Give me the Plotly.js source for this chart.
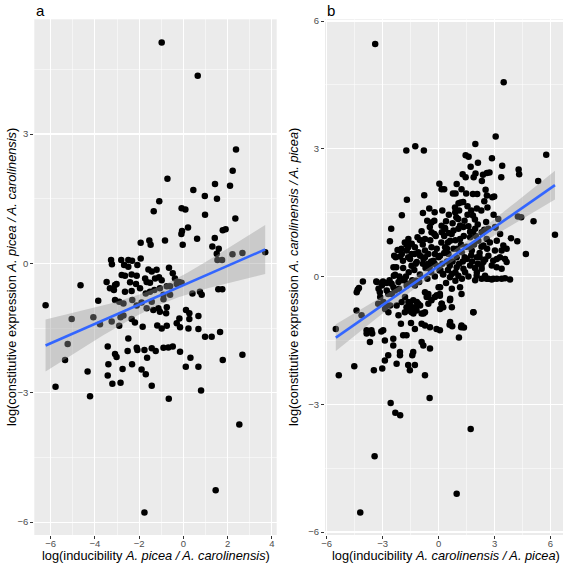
<!DOCTYPE html>
<html>
<head>
<meta charset="utf-8">
<script src="https://cdn.plot.ly/plotly-3.0.1.min.js"></script>
<style>html,body{margin:0;padding:0;background:#fff;}#chart{width:566px;height:566px;}</style>
</head>
<body>
<div id="chart"></div>
<script>
// Panel a: log(inducibility A. picea / A. carolinensis) vs log(constitutive expression A. picea / A. carolinensis)
const aX = [-0.98,0.65,2.38,2.23,-0.72,1.43,2.11,0.45,0.97,1.52,-1.09,-1.34,-0.08,0.09,0.98,2.35,0.21,-0.06,-0.09,1.78,1.91,-1.93,-1.54,-1.48,-0.83,0.62,1.42,-0.03,1.31,1.60,1.51,1.54,1.75,2.22,2.67,3.70,-3.27,-3.23,-2.81,-2.68,-2.49,-2.32,-1.93,-2.08,-2.49,
-4.65,-3.47,-3.02,-2.79,-2.64,-2.34,-2.41,-2.14,-1.58,-1.43,-1.21,-0.65,-0.48,-0.38,-0.20,-0.30,-0.60,-0.08,-1.73,-1.66,-1.51,-1.28,-1.10,-0.98,-0.75,-2.11,-3.32,-3.14,-3.09,-2.64,-2.34,-1.96,-1.70,-1.51,-1.31,-1.06,-0.90,-0.90,-0.60,0.41,0.75,0.83,1.58,1.76,
-3.85,-3.09,-2.90,-2.71,-2.31,-2.11,-1.89,-1.66,-1.43,-1.36,-1.13,-1.06,-0.75,-0.78,0.12,0.27,-0.18,0.27,0.68,-5.05,-4.07,-3.77,-3.24,-2.84,-2.71,-2.34,-2.19,-2.90,-1.84,-1.18,-0.98,-0.75,-0.30,-0.15,0.23,0.68,1.66,0.98,1.28,-2.49,
-6.23,-5.23,-5.35,-5.78,-4.33,-4.22,-3.42,-3.09,-3.02,-3.39,-2.75,-3.42,-3.21,-2.84,-2.52,-2.32,-2.11,-2.08,-1.76,-1.89,-1.70,-1.64,-1.43,-1.25,-1.43,-0.90,-0.68,-0.48,-0.15,0.32,0.11,0.68,0.80,-0.66,1.78,2.67,2.53,1.46,-1.76];
const aY = [5.12,4.35,2.64,2.15,1.96,1.84,1.80,1.70,1.56,1.50,1.44,1.21,1.28,1.25,1.13,1.04,0.83,0.75,0.68,0.77,0.79,0.48,0.53,0.43,0.53,0.57,0.59,0.43,0.39,0.34,0.22,0.08,0.08,0.21,0.24,0.26,0.08,-0.02,0.08,-0.04,0.08,0.06,0.11,-0.04,-0.08,
-0.51,-0.43,-0.48,-0.27,-0.29,-0.26,-0.44,-0.48,-0.14,-0.19,-0.15,-0.10,-0.23,-0.35,-0.43,-0.48,-0.53,-0.45,-0.35,-0.43,-0.45,-0.35,-0.32,-0.39,-0.53,-0.29,-0.58,-0.62,-0.50,-0.66,-0.64,-0.58,-0.70,-0.66,-0.62,-0.58,-0.73,-0.83,-0.73,-0.70,-0.66,-0.73,-0.60,-0.60,
-0.87,-0.85,-0.89,-0.93,-0.85,-0.98,-0.91,-1.04,-0.89,-1.08,-1.04,-1.12,-1.02,-1.16,-1.08,-1.16,-1.28,-1.29,-1.22,-1.29,-1.25,-1.41,-1.35,-1.25,-1.21,-1.29,-1.37,-1.45,-1.47,-1.44,-1.51,-1.45,-1.39,-1.48,-1.51,-1.52,-1.59,-1.70,-1.70,-1.74,
-0.97,-1.87,-2.24,-2.86,-2.51,-3.08,-1.93,-2.10,-2.17,-2.34,-2.45,-2.60,-2.79,-2.77,-2.03,-2.34,-1.96,-2.01,-2.01,-2.46,-2.57,-2.19,-1.97,-2.03,-2.84,-1.96,-1.95,-1.93,-2.05,-2.19,-2.40,-2.40,-2.95,-3.14,-2.24,-2.12,-3.74,-5.26,-5.78];

// Panel b: log(inducibility A. carolinensis / A. picea) vs log(constitutive expression A. carolinensis / A. picea)
const bX = [-3.40,3.49,3.06,-1.25,-1.73,-0.79,1.97,5.77,1.45,1.61,2.86,2.11,1.72,3.41,4.29,4.32,1.29,1.45,1.98,1.88,2.38,2.59,2.73,2.32,3.36,0.04,0.16,0.30,0.97,1.23,0.77,0.91,1.48,1.84,2.07,2.52,2.88,2.98,2.59,5.34,-0.77,-1.70,1.07,1.18,1.32,2.45,-1.97,-0.84,-0.21,0.89,1.75,1.84,2.29,0.95,1.39,1.95,4.25,4.43,5.09,6.24,-0.61,-2.54,
0.88,1.10,1.55,2.05,2.62,2.95,3.20,0.75,1.15,1.60,2.10,2.55,3.05,0.40,1.85,2.35,3.30,0.55,
-2.61,-0.38,-0.23,0.16,0.34,-0.91,-0.47,-0.38,-0.23,-1.13,-1.00,-0.73,-1.81,-1.72,-2.20,-1.99,-1.63,-1.27,-2.38,-2.07,-1.45,-1.09,-0.73,-0.38,-1.63,-0.73,-0.20,
0.17,0.35,0.53,0.80,1.06,1.33,1.69,1.96,2.31,2.67,3.03,0.62,1.15,1.69,2.13,2.58,3.12,-1.44,-1.62,-1.97,-1.71,-0.99,-0.55,-0.10,0.08,0.35,0.53,-1.53,-1.17,-0.81,-0.55,-0.28,
0.80,0.97,1.24,1.51,1.78,2.05,2.40,2.67,2.85,3.12,0.97,1.33,1.69,2.05,2.31,2.49,0.71,1.06,1.42,-2.42,-2.33,
-1.30,-1.00,-0.70,-0.40,-0.10,0.20,0.45,-0.60,-0.20,0.25,0.50,-1.60,-1.90,-2.10,-1.20,0.00,0.30,-0.40,
-1.91,-2.27,-1.29,-1.23,-0.84,-0.48,-0.21,0.05,0.23,-4.06,-3.34,-2.98,-2.63,-2.40,-1.82,
-3.31,-3.04,-2.78,-2.42,-2.15,-3.22,-2.78,-2.51,-1.89,-1.71,-1.35,-3.13,-2.96,-2.60,-2.87,-2.69,-1.80,-1.62,-1.44,-1.17,-1.62,-1.35,-0.99,-0.81,-0.55,-0.10,0.08,0.71,0.17,0.62,0.71,0.08,1.15,1.96,2.31,2.67,2.85,3.12,0.62,1.87,-2.15,
-5.51,-4.34,-4.39,-2.52,-3.15,-2.70,-2.34,-2.12,-1.63,-1.41,-1.27,-1.04,-4.40,-4.13,-3.24,-2.79,-2.25,-1.98,-1.72,-1.54,-1.36,-1.27,-1.09,-1.81,-1.45,-1.18,-0.91,-0.73,-0.55,-0.38,-0.20,-0.64,0.07,0.16,0.25,-0.73,-0.55,0.00,0.61,
-3.86,-3.60,-3.86,-2.97,-3.68,-2.88,-2.43,-2.02,-1.48,-1.90,-1.72,-1.27,-0.91,-0.73,-0.46,-0.11,0.07,-2.43,-0.91,-0.82,-0.46,-1.36,-1.41,-2.07,-2.07,-2.70,-2.88,-2.25,-1.63,-1.27,-4.52,-3.47,-3.02,-1.54,-0.73,-5.35,
-2.57,-2.32,-2.06,-0.48,1.72,-3.43,-4.20,0.97,1.09,1.21,1.36,0.59,0.73,-3.07,-3.56,-4.27,
3.88,4.22,4.68,2.40,2.75,3.47,3.02,3.38,3.65,3.56,3.29,2.93,3.65,3.38,3.11,2.30,2.04,2.57,2.93,3.38,3.56,3.83,1.23,0.07,0.61,1.86,1.23,
1.20,1.50,1.90,0.90,1.40,1.80,2.20,1.10,0.50,0.30,0.75,1.60,1.25,0.90,0.40,2.20,2.60,1.95,
-0.85,-0.45,-0.15,0.15,0.45,0.70,1.00,1.35,1.70,2.00,2.30,2.45,-0.60,0.10,0.60,0.90,1.30,1.75,2.10,2.50,-1.45,-1.75,-2.30,1.05,1.55,0.20,-0.50];
const bY = [5.46,4.56,3.29,3.06,2.96,2.96,3.11,2.86,2.85,2.81,2.78,2.67,2.58,2.60,2.51,2.40,2.40,2.33,2.42,2.33,2.39,2.43,2.44,2.24,2.33,2.18,2.05,2.05,2.17,2.05,1.95,1.95,1.95,1.94,1.94,2.04,1.86,1.88,1.90,2.24,1.91,1.80,1.72,1.74,1.75,1.77,1.44,1.49,1.51,1.51,1.55,1.43,1.55,1.39,1.31,1.34,1.41,1.39,1.30,0.98,1.31,1.12,
1.62,1.55,1.65,1.60,1.62,1.45,1.35,1.25,1.20,1.18,1.22,1.28,1.15,1.30,1.05,1.02,1.00,1.45,
0.83,1.27,1.31,1.19,1.14,1.06,1.16,1.04,1.00,0.92,0.86,0.88,0.80,0.75,0.62,0.65,0.69,0.69,0.49,0.47,0.53,0.57,0.61,0.69,0.45,0.45,0.53,
1.04,1.12,1.02,1.08,1.12,1.16,1.05,1.12,1.04,1.12,1.16,0.84,0.88,0.92,0.84,0.88,0.84,0.77,0.88,0.53,0.61,0.49,0.53,0.65,0.49,0.69,0.53,0.41,0.34,0.41,0.30,0.37,
0.65,0.45,0.57,0.41,0.61,0.45,0.34,0.49,0.26,0.41,0.22,0.18,0.26,0.10,0.18,0.02,0.06,0.02,0.10,0.22,0.04,
0.15,0.05,0.20,0.10,0.25,0.30,0.35,-0.05,0.00,0.05,0.15,0.10,0.20,0.00,-0.10,0.45,0.55,0.35,
0.37,0.22,0.53,0.30,0.30,0.22,0.30,0.14,0.06,-0.12,-0.12,-0.12,-0.09,0.02,-0.05,
-0.13,-0.21,-0.15,-0.25,-0.13,-0.29,-0.33,-0.41,-0.09,-0.21,-0.17,-0.48,-0.60,-0.68,-0.76,-0.84,-0.48,-0.60,-0.72,-0.60,-0.80,-0.87,-0.68,-0.87,-0.48,-0.44,-0.25,-0.29,-0.64,-0.52,-0.72,-0.76,-0.25,-0.09,-0.05,-0.05,-0.07,-0.05,-1.07,-0.84,-0.91,
-1.23,-0.31,-0.37,-0.17,-0.37,-0.41,-0.33,-0.29,-0.17,-0.09,-0.21,-0.13,-0.80,-0.91,-0.64,-0.68,-0.68,-0.60,-0.72,-0.64,-0.56,-0.72,-0.64,-0.84,-0.84,-0.80,-0.87,-0.84,-0.64,-0.56,-0.48,-0.48,-0.41,-0.64,-0.72,-0.37,-0.41,-0.25,-0.02,
-1.26,-1.26,-1.34,-1.26,-1.54,-1.50,-1.46,-1.11,-1.09,-1.38,-1.38,-1.23,-1.11,-1.15,-1.19,-1.23,-1.26,-1.62,-1.54,-1.62,-1.69,-1.77,-1.85,-1.77,-1.85,-1.85,-1.97,-2.05,-2.08,-2.08,-2.11,-2.20,-2.16,-2.20,-2.32,-2.32,
-2.97,-3.20,-3.26,-2.85,-3.58,-4.22,-5.54,-5.10,-1.43,-1.19,-1.20,-1.13,-1.17,-1.29,-1.34,-0.27,
0.90,0.83,0.53,0.73,0.80,0.73,0.61,0.61,0.65,0.41,0.45,0.37,0.34,0.18,0.22,0.26,0.02,-0.05,-0.05,-0.05,-0.04,-0.07,-0.41,-0.45,-0.56,-0.84,-1.15,
0.75,0.70,0.75,0.85,0.45,0.35,0.55,0.30,0.80,0.95,0.35,0.00,-0.05,-0.10,-0.15,0.45,0.65,0.20,
0.75,0.85,0.95,0.80,0.65,1.00,0.65,0.95,0.70,0.95,0.70,1.10,0.20,0.15,0.25,0.10,0.35,0.50,0.30,0.40,0.25,0.00,0.45,1.35,1.45,1.55,1.60];

function tq(df){ return 1.959964 + 2.372/df + 2.82/(df*df); }
function smooth(xs, ys){
  const n = xs.length;
  let mx=0,my=0; for(let i=0;i<n;i++){mx+=xs[i];my+=ys[i];} mx/=n; my/=n;
  let sxx=0,sxy=0; for(let i=0;i<n;i++){sxx+=(xs[i]-mx)**2; sxy+=(xs[i]-mx)*(ys[i]-my);}
  const b1=sxy/sxx, b0=my-b1*mx;
  let sse=0; for(let i=0;i<n;i++){sse+=(ys[i]-b0-b1*xs[i])**2;}
  const s=Math.sqrt(sse/(n-2)), t=tq(n-2);
  const lo=Math.min(...xs), hi=Math.max(...xs);
  const gx=[],gy=[],up=[],dn=[];
  for(let k=0;k<80;k++){
    const x=lo+(hi-lo)*k/79, yh=b0+b1*x;
    const se=s*Math.sqrt(1/n+(x-mx)**2/sxx);
    gx.push(x); gy.push(yh); up.push(yh+t*se); dn.push(yh-t*se);
  }
  return {gx,gy,up,dn};
}

const FONT = 'Liberation Sans, Arial, Helvetica, sans-serif';
const fa = smooth(aX,aY), fb = smooth(bX,bY);
function traces(xs, ys, f, xa, ya){
  return [
    {x:xs, y:ys, xaxis:xa, yaxis:ya, type:'scatter', mode:'markers', hoverinfo:'skip',
     marker:{color:'#000000', size:6.5, line:{width:0}}},
    {x:f.gx.concat(f.gx.slice().reverse()), y:f.up.concat(f.dn.slice().reverse()), xaxis:xa, yaxis:ya,
     type:'scatter', mode:'lines', fill:'toself', fillcolor:'rgba(153,153,153,0.4)', line:{width:0}, hoverinfo:'skip'},
    {x:f.gx, y:f.gy, xaxis:xa, yaxis:ya, type:'scatter', mode:'lines', line:{color:'#3366FF', width:2.6}, hoverinfo:'skip'}
  ];
}
const data = traces(aX,aY,fa,'x','y').concat(traces(bX,bY,fb,'x2','y2'));

function ax(domain, range, dtick, anchor, isX){
  return {domain:domain, range:range, anchor:anchor, dtick:dtick, tick0:0,
    showgrid:true, gridcolor:'#FFFFFF', gridwidth:1.1, zeroline:false, showline:false,
    ticks:'outside', ticklen:3, tickwidth:1, tickcolor:'#333333',
    ticklabelstandoff: isX ? -3 : 0,
    tickfont:{family:FONT, size:9.5, color:'#4D4D4D'},
    minor:{dtick:dtick/2, tick0:0, showgrid:true, gridcolor:'#FFFFFF', gridwidth:0.5, ticks:''},
    fixedrange:true};
}
const W=566;
const yd=[1-535/W, 1-19.3/W];
const TS = 12.8;
const layout = {
  width:566, height:566, margin:{l:0,r:0,t:0,b:0}, showlegend:false,
  paper_bgcolor:'#FFFFFF', plot_bgcolor:'#EBEBEB',
  font:{family:FONT, color:'#000'},
  xaxis: ax([34.3/W, 276.7/W], [-6.74, 4.22], 2, 'y', true),
  yaxis: ax(yd, [-6.30, 5.66], 3, 'x', false),
  xaxis2: ax([325/W, 563/W], [-6.09, 6.67], 3, 'y2', true),
  yaxis2: ax(yd, [-6.07, 6.04], 3, 'x2', false),
  annotations:[
    {text:'a', xref:'paper', yref:'paper', x:34/W, y:1-10/W, xanchor:'left', yanchor:'middle', showarrow:false, font:{family:FONT,size:15,color:'#000'}},
    {text:'b', xref:'paper', yref:'paper', x:325/W, y:1-10/W, xanchor:'left', yanchor:'middle', showarrow:false, font:{family:FONT,size:15,color:'#000'}},
    {text:'log(inducibility <i>A. picea / A. carolinensis</i>)', xref:'paper', yref:'paper', x:155.5/W, y:1-555/W, xanchor:'center', yanchor:'middle', showarrow:false, font:{family:FONT,size:TS,color:'#000'}},
    {text:'log(inducibility <i>A. carolinensis / A. picea</i>)', xref:'paper', yref:'paper', x:446/W, y:1-555/W, xanchor:'center', yanchor:'middle', showarrow:false, font:{family:FONT,size:TS,color:'#000'}},
    {text:'log(constitutive expression <i>A. picea / A. carolinensis</i>)', xref:'paper', yref:'paper', x:12/W, y:1-277/W, xanchor:'center', yanchor:'middle', textangle:-90, showarrow:false, font:{family:FONT,size:TS,color:'#000'}},
    {text:'log(constitutive expression <i>A. carolinensis / A. picea</i>)', xref:'paper', yref:'paper', x:294/W, y:1-277/W, xanchor:'center', yanchor:'middle', textangle:-90, showarrow:false, font:{family:FONT,size:TS,color:'#000'}}
  ]
};
Plotly.newPlot('chart', data, layout, {staticPlot:true, displayModeBar:false});
</script>
</body>
</html>
